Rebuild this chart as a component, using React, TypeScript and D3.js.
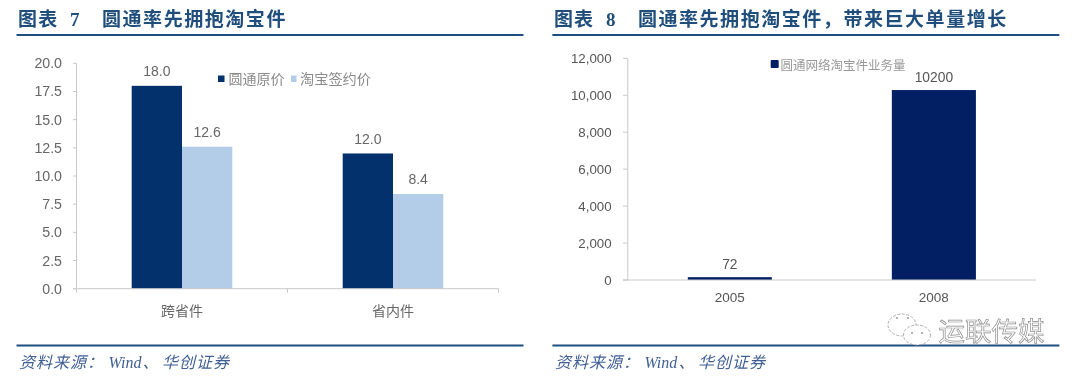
import React from "react";
import * as d3 from "d3";

const priceCategories = ["跨省件", "省内件"];
const priceSeriesNames = ["圆通原价", "淘宝签约价"];
const originalPrice = [18.0, 12.0];
const taobaoPrice = [12.6, 8.4];
const priceTicks = [0, 2.5, 5, 7.5, 10, 12.5, 15, 17.5, 20];

const volumeCategories = ["2005", "2008"];
const volumeSeriesName = "圆通网络淘宝件业务量";
const volumeValues = [72, 10200];
const volumeTicks = [0, 2000, 4000, 6000, 8000, 10000, 12000];

const NAVY = "#03316b";
const LIGHT = "#b3cce8";
const NAVY2 = "#031f63";
const TITLE = "#1f4e7d";
const GREY = "#666";
const AXIS = "#c8c8c8";
const CJK = '"Noto Sans CJK SC", sans-serif';
const LATIN = '"Liberation Sans", Arial, sans-serif';
const SERIF = '"Liberation Serif", "Noto Sans CJK SC", serif';

function Header({ x, num, text }: { x: number; num: string; text: string }) {
  return (
    <g fill={TITLE} fontWeight={700}>
      <text x={x + 1.5} y={26} fontFamily={CJK} fontSize={19} letterSpacing={1.2}>图表</text>
      <text x={x + 53.5} y={26} fontFamily={SERIF} fontSize={19}>{num}</text>
      <text x={x + 85.5} y={26} fontFamily={CJK} fontSize={19} letterSpacing={1.55}>{text}</text>
      <rect x={x} y={34} width={507} height={2} fill="#1f4f7f" />
      <rect x={x} y={344.5} width={507} height={2} fill="#1f4f7f" />
      <g fontStyle="italic" fontWeight={400} fill="#3f5f95">
        <text x={x + 2.5} y={368} fontFamily={CJK} fontSize={16} letterSpacing={1}>资料来源：</text>
        <text x={x + 92} y={368} fontFamily={SERIF} fontSize={16}>Wind</text>
        <text x={x + 126} y={368} fontFamily={CJK} fontSize={16}>、</text>
        <text x={x + 145.5} y={368} fontFamily={CJK} fontSize={16} letterSpacing={1}>华创证券</text>
      </g>
    </g>
  );
}

function LeftChart() {
  const x0 = d3.scaleBand<string>().domain(priceCategories).range([76.5, 498.5]);
  const y = d3.scaleLinear().domain([0, 20]).range([288.7, 63.3]);
  const barW = 50.3;
  const series = [
    { values: originalPrice, color: NAVY, off: -barW },
    { values: taobaoPrice, color: LIGHT, off: 0 },
  ];
  const centre = (c: string) => (x0(c) as number) + x0.bandwidth() / 2;
  const edges = [0, 1, 2].map((i) => 76.5 + i * x0.step());
  return (
    <g>
      {series.map((s, si) =>
        priceCategories.map((c, i) => (
          <g key={`${si}-${i}`}>
            <rect x={centre(c) + s.off} y={y(s.values[i])} width={barW} height={y(0) - y(s.values[i])} fill={s.color} />
            <text x={centre(c) + s.off + barW / 2} y={y(s.values[i]) - 9.7} textAnchor="middle" fontFamily={LATIN} fontSize={14} fill={GREY}>
              {s.values[i].toFixed(1)}
            </text>
          </g>
        ))
      )}
      <line x1={76.5} x2={76.5} y1={y(20)} y2={y(0)} stroke={AXIS} />
      <line x1={73} x2={498.5} y1={y(0)} y2={y(0)} stroke={AXIS} />
      {priceTicks.map((t) => (
        <g key={t}>
          <line x1={73} x2={76.5} y1={y(t)} y2={y(t)} stroke={AXIS} />
          <text x={62} y={y(t) + 5} textAnchor="end" fontFamily={LATIN} fontSize={14.2} fill={GREY}>{t.toFixed(1)}</text>
        </g>
      ))}
      {edges.map((e) => <line key={e} x1={e} x2={e} y1={y(0)} y2={y(0) + 4} stroke={AXIS} />)}
      {priceCategories.map((c) => (
        <text key={c} x={centre(c)} y={316} textAnchor="middle" fontFamily={CJK} fontSize={14} fill={GREY}>{c}</text>
      ))}
      <rect x={218} y={75.5} width={6.5} height={6.5} fill={NAVY} />
      <text x={228.5} y={84} fontFamily={CJK} fontSize={14} fill="#8a8a8a">{priceSeriesNames[0]}</text>
      <rect x={291} y={75.5} width={5.5} height={6.5} fill={LIGHT} />
      <text x={300} y={84} fontFamily={CJK} fontSize={14.2} fill="#8a8a8a">{priceSeriesNames[1]}</text>
    </g>
  );
}

function RightChart() {
  const x = d3.scaleBand<string>().domain(volumeCategories).range([627.8, 1035.9]).paddingInner(0.588).paddingOuter(0.294);
  const y = d3.scaleLinear().domain([0, 12000]).range([280, 58.3]);
  return (
    <g>
      {volumeCategories.map((c, i) => {
        const top = y(volumeValues[i]);
        const bx = x(c) as number;
        const cx = bx + x.bandwidth() / 2;
        return (
          <g key={c}>
            <rect x={bx} y={top - 1.5} width={x.bandwidth()} height={y(0) - top + 1.5} fill={NAVY2} />
            <text x={cx} y={top - 9.3} textAnchor="middle" fontFamily={LATIN} fontSize={13.8} fill="#555">{volumeValues[i]}</text>
            <text x={cx} y={302} textAnchor="middle" fontFamily={LATIN} fontSize={13.5} fill="#555">{c}</text>
          </g>
        );
      })}
      <line x1={627.8} x2={627.8} y1={y(12000)} y2={y(0)} stroke={AXIS} />
      <line x1={623} x2={1035.9} y1={y(0)} y2={y(0)} stroke={AXIS} />
      {volumeTicks.map((t) => (
        <g key={t}>
          <line x1={623} x2={627.8} y1={y(t)} y2={y(t)} stroke={AXIS} />
          <text x={611.6} y={y(t) + 5} textAnchor="end" fontFamily={LATIN} fontSize={13.3} fill="#555">{d3.format(",")(t)}</text>
        </g>
      ))}
      <rect x={770.7} y={60} width={8} height={8} rx={1} fill={NAVY2} />
      <text x={780.4} y={69.5} fontFamily={CJK} fontSize={12.5} fill="#999">{volumeSeriesName}</text>
    </g>
  );
}

function Watermark() {
  return (
    <g>
      <g fill="#fff" stroke="#9a9a9a" strokeWidth={0.8} strokeDasharray="3 1.5">
        <ellipse cx={902} cy={325} rx={14} ry={11} />
        <ellipse cx={917} cy={335} rx={13.5} ry={10} />
      </g>
      <g fill="#999">
        <circle cx={897} cy={318} r={1} /><circle cx={908} cy={318} r={1} />
        <circle cx={912} cy={333} r={1} /><circle cx={922} cy={333} r={1} />
      </g>
      <text x={938.5} y={341} fontFamily={CJK} fontSize={26.5} fill="#fff" stroke="#8c8c8c" strokeWidth={0.7}>运联传媒</text>
    </g>
  );
}

export default function App() {
  return (
    <svg width={1080} height={378} style={{ position: "fixed", left: 0, top: 0, background: "#fff", filter: "blur(0.4px)" }}>
      <Header x={16.5} num="7" text="圆通率先拥抱淘宝件" />
      <Header x={552.4} num="8" text="圆通率先拥抱淘宝件，带来巨大单量增长" />
      <LeftChart />
      <RightChart />
      <Watermark />
    </svg>
  );
}
